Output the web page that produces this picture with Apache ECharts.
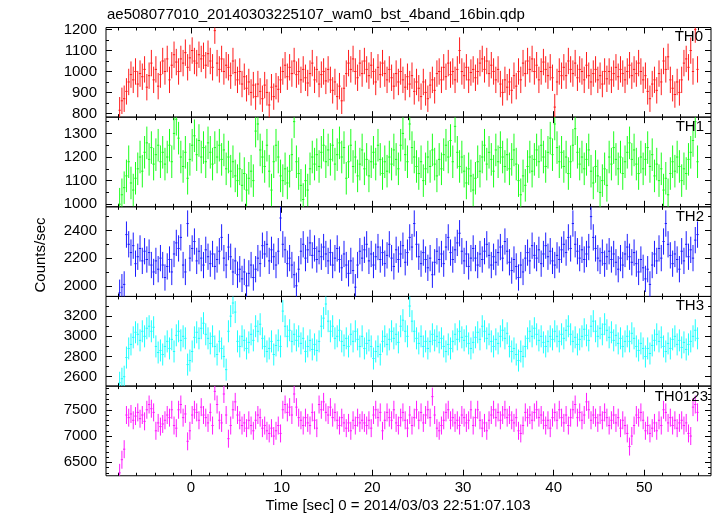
<!DOCTYPE html>
<html><head><meta charset="utf-8">
<script src="https://cdn.jsdelivr.net/npm/echarts@6/dist/echarts.min.js"></script>
<style>html,body{margin:0;padding:0;background:#fff}#c{width:717px;height:516px}</style>
</head><body><div id="c"></div>
<script>
const titleText = 'ae508077010_20140303225107_wam0_bst_4band_16bin.qdp';
const xTitle = 'Time [sec] 0 = 2014/03/03 22:51:07.103';
const yTitle = 'Counts/sec';
const panelNames = ['TH0', 'TH1', 'TH2', 'TH3', 'TH0123'];
const colors = ['#ff1a1a', '#1aff1a', '#1a1aff', '#1affff', '#ff1aff'];
const firstBinCentre = -7.875;   // s
const binWidth = 0.25;           // s (16 x 1/64 s)
const xRange = [-9.38, 57.36];
const xLabelValues = [0, 10, 20, 30, 40, 50];
const yRanges = [[782, 1210], [989, 1369], [1923, 2571], [2507, 3395], [6245, 7950]];
const yLabelValues = [[800, 900, 1000, 1100, 1200], [1000, 1100, 1200, 1300], [2000, 2200, 2400], [2600, 2800, 3000, 3200], [6500, 7000, 7500]];
const yMinorStep = [50, 50, 100, 100, 100];
const errBars = [63, 69, 95, 109, 171];

const th0 = [
815,860,870,905, 950,985,960,1000, 940,990,975,1010, 925,980,1040,960,
1010,930,985,1050, 1000,1060,960,1030, 1080,1045,1000,1060, 1040,1090,1020,1065,
1100,1050,1040,1080, 1060,1075,1030,1085, 1050,1020,1195,1040, 1010,1060,1000,1030,
1020,980,1050,995, 960,1000,940,975, 920,950,900,935, 880,940,905,870,
935,900,840,925, 880,930,915,960, 1000,1030,975,1020, 990,1050,985,1000,
960,1010,970,945, 990,1040,960,1010, 940,985,1000,955, 1010,960,910,950,
880,930,860,920, 990,1040,1010,1060, 1000,970,1040,990, 1050,1010,980,1030,
1000,950,1020,985, 1040,990,960,1010, 970,930,990,950, 1000,960,925,975,
940,980,905,950, 920,880,950,900, 870,935,960,910, 990,1000,960,1020,
975,1040,985,1000, 960,1010,1100,1000, 980,1020,960,995, 1010,970,1000,1040,
1060,1010,1050,990, 1030,1000,960,1010, 940,900,960,925, 950,910,980,930,
1000,960,1040,990, 1050,1010,1060,1000, 1030,960,1000,1045, 1010,980,1020,970,
830,950,1000,980, 1020,980,1050,1010, 990,1040,970,1010, 1000,960,1030,980,
950,990,1010,960, 980,940,1000,965, 1000,960,990,1020, 975,1010,990,960,
1000,1030,980,1010, 990,1040,1000,960, 980,905,870,940, 960,910,990,950,
1050,1010,1070,960, 920,890,950,900, 960,1040,1060,1020, 1100,1000,1200,1010
];
const th1 = [
1000,1040,1070,1120, 1180,1090,1060,1110, 1150,1200,1140,1220, 1260,1190,1240,1170,
1210,1250,1180,1220, 1170,1200,1250,1180, 1300,1360,1280,1200, 1160,1220,1110,1190,
1250,1290,1210,1270, 1200,1240,1180,1260, 1220,1170,1240,1200, 1250,1190,1230,1150,
1200,1140,1180,1120, 1100,1150,1080,1130, 1060,1110,1140,1100, 1310,1340,1230,1200,
1160,1250,1140,1060, 1180,1250,1200,1120, 1100,1150,1090,1140, 1210,1350,1180,1130,
1080,1020,1100,1060, 1150,1200,1170,1210, 1160,1220,1250,1180, 1230,1190,1250,1170,
1210,1260,1200,1240, 1110,1180,1250,1160, 1200,1120,1170,1230, 1150,1190,1120,1180,
1220,1170,1250,1190, 1130,1180,1140,1200, 1170,1230,1190,1150, 1250,1300,1210,1180,
1340,1240,1200,1160, 1130,1180,1100,1150, 1200,1160,1230,1170, 1120,1190,1150,1210,
1250,1200,1270,1180, 1330,1220,1160,1200, 1140,1090,1150,1120, 1060,1110,1180,1140,
1200,1250,1170,1220, 1190,1140,1230,1180, 1240,1200,1160,1210, 1150,1190,1230,1170,
1100,1040,1120,1080, 1160,1200,1140,1190, 1230,1180,1250,1200, 1160,1220,1280,1210,
1340,1240,1180,1220, 1160,1200,1130,1180, 1250,1320,1220,1170, 1200,1150,1190,1230,
1140,1090,1160,1120, 1050,1100,1150,1080, 1200,1170,1240,1190, 1150,1200,1130,1180,
1220,1260,1190,1230, 1170,1130,1200,1150, 1190,1240,1160,1210, 1120,1170,1100,1150,
1060,1110,1040,1130, 1180,1140,1200,1160, 1100,1150,1130,1190, 1220,1270,1350,1180
];
const th2 = [
1950,1990,2010,2370, 2300,2240,2290,2160, 2210,2270,2180,2250, 2190,2240,2150,2100,
2180,2120,2200,2150, 2060,2140,2190,2100, 2230,2310,2270,2350, 2150,2100,2450,2200,
2270,2320,2180,2250, 2200,2150,2260,2210, 2160,2230,2140,2190, 2250,2350,2200,2150,
2280,2210,2100,2180, 2080,2120,2050,2100, 2000,2090,2150,2060, 2120,2200,2160,2290,
2230,2300,2180,2260, 2210,2150,2250,2490, 2300,2260,2160,2200, 2150,2080,2000,2120,
2250,2300,2200,2260, 2310,2220,2270,2190, 2250,2210,2280,2230, 2180,2240,2150,2200,
2270,2190,2130,2230, 2150,2090,2180,2110, 1990,2150,2250,2200, 2260,2300,2180,2230,
2150,2210,2280,2190, 2240,2160,2220,2300, 2200,2140,2260,2190, 2230,2290,2170,2240,
2350,2280,2450,2300, 2210,2160,2240,2190, 2130,2200,2080,2170, 2250,2190,2230,2160,
2280,2350,2240,2190, 2260,2310,2380,2250, 2180,2230,2140,2200, 2270,2200,2150,2230,
2190,2250,2300,2220, 2150,2210,2170,2240, 2280,2200,2320,2250, 2170,2110,2190,2140,
2060,2150,2100,2200, 2240,2180,2290,2220, 2200,2260,2160,2230, 2290,2210,2250,2180,
2150,2220,2190,2260, 2300,2240,2350,2270, 2450,2300,2250,2200, 2260,2190,2230,2280,
2500,2350,2270,2200, 2180,2240,2160,2210, 2250,2190,2230,2170, 2120,2200,2150,2230,
2280,2210,2170,2240, 2160,2100,2190,2130, 2050,2120,2010,2150, 2230,2180,2270,2200,
2320,2450,2300,2220, 2160,2230,2190,2120, 2250,2180,2300,2210, 2260,2200,2330,2370
];
const th3 = [
2540,2580,2600,2790, 2880,2920,2990,3040, 3020,2960,3050,3000, 3080,3100,3050,3090,
2900,2840,2860,2820, 2900,2950,2880,2970, 2850,3010,3050,2960, 3000,2980,2720,2760,
2850,2990,3040,2980, 3080,3130,3020,2980, 2930,3000,2900,2820, 2950,2880,2800,2670,
3050,3200,3330,3240, 2950,2900,3000,2960, 2880,2940,3020,2960, 3100,3050,3120,2980,
2900,2850,2880,2950, 2820,2910,2960,2900, 3250,3100,3000,3060, 2950,3020,2960,3000,
2930,2980,2850,2900, 2960,2870,2920,2860, 2950,3100,3180,3320, 3150,3050,3100,2980,
3000,3060,2950,2910, 2980,2900,3020,2950, 3050,2970,2900,3000, 2880,2930,2960,2900,
2780,2850,2900,2820, 2950,3000,2920,2970, 3050,2980,3020,2940, 3100,3160,3050,3000,
3300,3150,3050,2980, 2930,3000,2900,2950, 2880,2950,3020,2960, 3000,2940,2980,2900,
2850,2920,2880,2950, 3020,2970,3050,2990, 2960,3000,2930,2880, 2940,2990,3040,2970,
3100,3050,2980,3020, 2950,2900,2970,2930, 3000,3060,2980,3030, 2900,2850,2880,2820,
2760,2850,2800,2900, 2980,3050,3000,3080, 3020,2960,3000,2940, 2900,2950,3000,2970,
3050,3000,2950,3020, 2980,3060,3100,3020, 2950,2990,2920,2970, 3000,3070,3010,2960,
3100,3150,3050,3000, 3080,3020,3120,3060, 2990,3040,2960,3010, 2930,2980,2900,2950,
3000,2950,3030,2980, 2900,2860,2930,2880, 2800,2880,2830,2910, 2960,3020,2950,2990,
2900,2850,2930,2880, 2970,3000,2920,2960, 2890,2940,2870,2920, 2950,3000,3060,2980
];
const th0123 = [
6300,6550,6750,7400, 7350,7420,7300,7380, 7450,7330,7400,7280, 7500,7600,7520,7450,
7100,7250,7180,7230, 7300,7400,7350,7500, 7200,7150,7500,7600, 7350,7420,6900,7100,
7400,7500,7450,7300, 7550,7400,7350,7250, 7450,7200,7850,7600, 7300,7250,7800,7400,
6950,7200,7500,7650, 7400,7300,7200,7250, 7150,7300,7200,7100, 7300,7400,7350,7150,
7200,7100,7050,7150, 7000,7100,7200,7050, 7500,7600,7450,7550, 7400,7800,7550,7350,
7300,7200,7350,7250, 7200,7450,7300,7150, 7600,7500,7650,7450, 7400,7550,7350,7450,
7300,7200,7350,7250, 7150,7250,7100,7300, 7200,7350,7250,7300, 7250,7200,7300,7150,
7400,7500,7350,7450, 7100,7300,7450,7350, 7300,7500,7250,7200, 7350,7450,7300,7150,
7400,7200,7350,7500, 7300,7450,7250,7400, 7500,7350,7750,7400, 7150,7100,7200,7300,
7450,7500,7300,7350, 7250,7300,7200,7400, 7350,7250,7300,7500, 7200,7350,7500,7300,
7150,7250,7100,7300, 7400,7500,7350,7450, 7300,7400,7500,7350, 7400,7300,7250,7350,
7100,7050,7200,7450, 7350,7400,7300,7450, 7500,7350,7400,7300, 7200,7300,7150,7350,
7450,7300,7500,7350, 7250,7400,7200,7350, 7500,7600,7350,7450, 7300,7400,7650,7500,
7300,7400,7350,7250, 7400,7300,7450,7350, 7200,7300,7400,7250, 7350,7150,7300,7200,
7050,6800,7000,7200, 7400,7350,7450,7300, 7100,7200,7050,7150, 7250,7100,7300,7200,
7500,7450,7250,7350, 7200,7300,7150,7250, 7300,7200,7250,7050, 7000,7550,7600,7450
];
const panelData = [th0, th1, th2, th3, th0123];

const FONT = '"Liberation Sans", Arial, Helvetica, sans-serif';
const gridLeft = 106, gridRight = 711, gridTop = 27.5, panelH = 89.65;
const panelLabelPos = [[703, 36.7], [704, 127], [704, 216.5], [704, 306], [708, 396.7]];

function range(a, b, s) { const r = []; for (let v = a; v <= b + 1e-9; v += s) r.push(v); return r; }
const xMinorValues = range(-8, 56, 2);
const plain = v => String(v);

const grids = [], xAxes = [], yAxes = [], series = [], graphics = [];
for (let i = 0; i < 5; i++) {
  grids.push({ left: gridLeft, width: gridRight - gridLeft, top: gridTop + i * panelH, height: panelH,
    show: true, borderColor: '#000', borderWidth: 1, backgroundColor: 'transparent' });
  const xBase = { gridIndex: i, type: 'value', min: xRange[0], max: xRange[1],
    axisLine: { show: false, onZero: false }, splitLine: { show: false } };
  const xi = xAxes.length;
  xAxes.push(Object.assign({}, xBase, { position: 'bottom',
    axisTick: { show: true, inside: true, length: 6, customValues: xLabelValues, lineStyle: { color: '#000', width: 1 } },
    axisLabel: { show: i === 4, customValues: xLabelValues, formatter: plain, fontSize: 15, fontFamily: FONT, color: '#000', margin: 5 } }));
  xAxes.push(Object.assign({}, xBase, { position: 'bottom',
    axisTick: { show: true, inside: true, length: 3, customValues: xMinorValues, lineStyle: { color: '#000', width: 1 } },
    axisLabel: { show: false } }));
  xAxes.push(Object.assign({}, xBase, { position: 'top',
    axisTick: { show: true, inside: true, length: 6, customValues: xLabelValues, lineStyle: { color: '#000', width: 1 } },
    axisLabel: { show: false } }));
  xAxes.push(Object.assign({}, xBase, { position: 'top',
    axisTick: { show: true, inside: true, length: 3, customValues: xMinorValues, lineStyle: { color: '#000', width: 1 } },
    axisLabel: { show: false } }));

  const [ymin, ymax] = yRanges[i];
  const majors = yLabelValues[i];
  const minors = range(Math.ceil(ymin / yMinorStep[i]) * yMinorStep[i], ymax, yMinorStep[i]);
  const yBase = { gridIndex: i, type: 'value', min: ymin, max: ymax,
    axisLine: { show: false, onZero: false }, splitLine: { show: false } };
  const yi = yAxes.length;
  yAxes.push(Object.assign({}, yBase, { position: 'left',
    axisTick: { show: true, inside: true, length: 6, customValues: majors, lineStyle: { color: '#000', width: 1 } },
    axisLabel: { show: true, customValues: majors, formatter: plain, fontSize: 15, fontFamily: FONT, color: '#000', margin: 9 } }));
  yAxes.push(Object.assign({}, yBase, { position: 'left',
    axisTick: { show: true, inside: true, length: 3, customValues: minors, lineStyle: { color: '#000', width: 1 } },
    axisLabel: { show: false } }));
  yAxes.push(Object.assign({}, yBase, { position: 'right',
    axisTick: { show: true, inside: true, length: 6, customValues: majors, lineStyle: { color: '#000', width: 1 } },
    axisLabel: { show: false } }));
  yAxes.push(Object.assign({}, yBase, { position: 'right',
    axisTick: { show: true, inside: true, length: 3, customValues: minors, lineStyle: { color: '#000', width: 1 } },
    axisLabel: { show: false } }));

  const err = errBars[i];
  const color = colors[i];
  const data = panelData[i].map((v, k) => [firstBinCentre + k * binWidth, v, err]);
  series.push({
    type: 'custom', xAxisIndex: xi, yAxisIndex: yi, clip: true, data: data, silent: true,
    renderItem: function (params, api) {
      const x = api.value(0), y = api.value(1), e = api.value(2);
      const a = api.coord([x - binWidth / 2, y]), b = api.coord([x + binWidth / 2, y]);
      const c = api.coord([x, y - e]), d = api.coord([x, y + e]);
      return { type: 'group', children: [
        { type: 'line', shape: { x1: a[0], y1: a[1], x2: b[0], y2: b[1] }, style: { stroke: color, lineWidth: 1 } },
        { type: 'line', shape: { x1: c[0], y1: c[1], x2: d[0], y2: d[1] }, style: { stroke: color, lineWidth: 1 } }
      ] };
    }
  });

  graphics.push({ type: 'text', x: panelLabelPos[i][0], y: panelLabelPos[i][1], z: 100,
    style: { text: panelNames[i], font: '15px ' + FONT, fill: '#000', align: 'right', verticalAlign: 'middle' } });
}
graphics.push({ type: 'text', x: 107, y: 15.3, style: { text: titleText, font: '15px ' + FONT, fill: '#000', align: 'left', verticalAlign: 'middle' } });
graphics.push({ type: 'text', x: 398, y: 505.5, style: { text: xTitle, font: '15px ' + FONT, fill: '#000', align: 'center', verticalAlign: 'middle' } });
graphics.push({ type: 'text', x: 41, y: 255, rotation: Math.PI / 2, style: { text: yTitle, font: '15px ' + FONT, fill: '#000', align: 'center', verticalAlign: 'middle' } });

const chart = echarts.init(document.getElementById('c'), null, { renderer: 'canvas' });
chart.setOption({
  animation: false,
  backgroundColor: '#fff',
  grid: grids, xAxis: xAxes, yAxis: yAxes, series: series, graphic: graphics
});
</script>
</body></html>
